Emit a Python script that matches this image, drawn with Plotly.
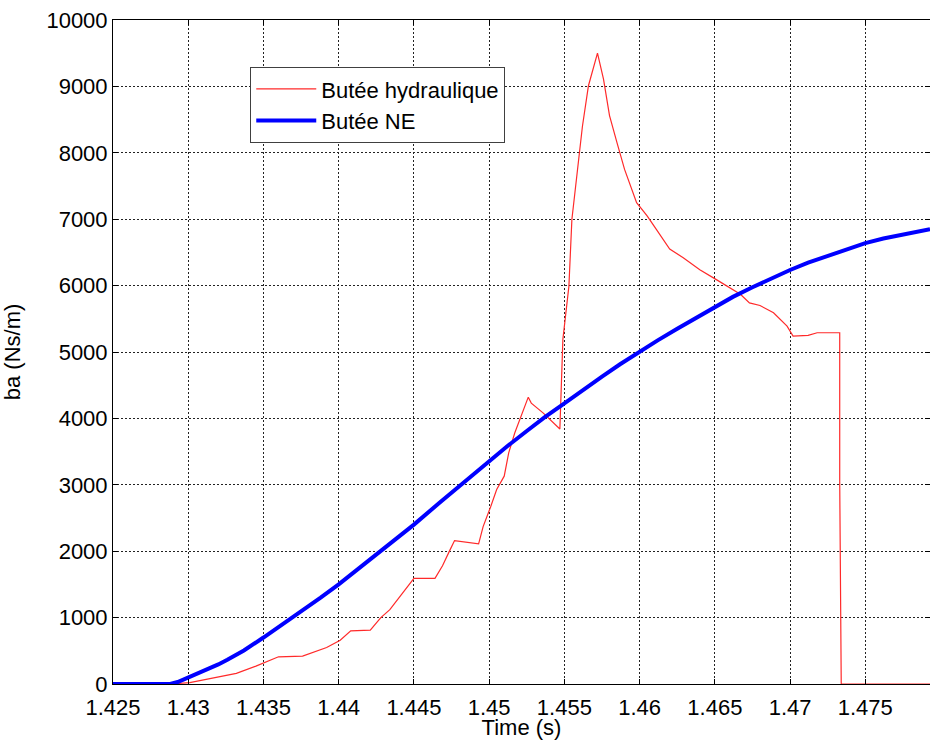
import plotly.graph_objects as go

# Butée hydraulique (red)
x_hydr = [1.4250, 1.4288, 1.4301, 1.4308, 1.4320, 1.4332, 1.4345, 1.4360, 1.4376, 1.4392,
          1.4401, 1.4408, 1.4421, 1.4428, 1.4434, 1.4441, 1.4450, 1.4464, 1.4469, 1.4474,
          1.4477, 1.4493, 1.4496, 1.4501, 1.4505, 1.4510, 1.4513, 1.4517, 1.4522, 1.4526,
          1.4528, 1.4536, 1.4547, 1.4549, 1.4553, 1.4555, 1.4560, 1.4562, 1.4566, 1.4572,
          1.4576, 1.4580, 1.4585, 1.4590, 1.4598, 1.4605, 1.4611, 1.4620, 1.4629, 1.4640,
          1.4651, 1.4658, 1.4667, 1.4673, 1.4680, 1.4689, 1.4698, 1.4702, 1.4712, 1.4718,
          1.4733, 1.4733, 1.4734, 1.4793]
y_hydr = [0, 0, 20, 50, 100, 160, 270, 410, 420, 550,
          660, 800, 810, 1000, 1120, 1330, 1590, 1590, 1780, 2020,
          2160, 2110, 2370, 2670, 2930, 3130, 3480, 3780, 4080, 4320,
          4230, 4080, 3840, 5190, 5990, 7000, 8000, 8400, 9010, 9500,
          9110, 8560, 8150, 7750, 7250, 7050, 6850, 6550, 6420, 6240,
          6090, 5990, 5870, 5740, 5700, 5590, 5390, 5240, 5250, 5290,
          5290, 3050, 0, 0]

# Butée NE (blue)
x_ne = [1.4250, 1.4288, 1.4293, 1.4300, 1.4307, 1.4314, 1.4320, 1.4326, 1.4337, 1.4350,
        1.4361, 1.4375, 1.4388, 1.4400, 1.4414, 1.4428, 1.4450, 1.4467, 1.4485, 1.4500,
        1.4512, 1.4525, 1.4537, 1.4550, 1.4562, 1.4575, 1.4587, 1.4600, 1.4612, 1.4625,
        1.4637, 1.4650, 1.4662, 1.4675, 1.4687, 1.4700, 1.4712, 1.4725, 1.4737, 1.4750,
        1.4762, 1.4775, 1.4793]
y_ne = [0, 0, 30, 95, 160, 228, 295, 365, 505, 700,
        870, 1100, 1300, 1500, 1750, 2000, 2400, 2730, 3070, 3360,
        3580, 3810, 4020, 4225, 4425, 4630, 4815, 5005, 5175, 5350,
        5510, 5680, 5830, 5975, 6105, 6235, 6345, 6450, 6550, 6640,
        6710, 6775, 6850]

x_ticks = [1.425, 1.43, 1.435, 1.44, 1.445, 1.45, 1.455, 1.46, 1.465, 1.47, 1.475]
x_ticklabels = ["1.425", "1.43", "1.435", "1.44", "1.445", "1.45", "1.455", "1.46", "1.465", "1.47", "1.475"]
y_ticks = [0, 1000, 2000, 3000, 4000, 5000, 6000, 7000, 8000, 9000, 10000]
y_ticklabels = ["0", "1000", "2000", "3000", "4000", "5000", "6000", "7000", "8000", "9000", "10000"]

fig = go.Figure()
fig.add_trace(go.Scatter(x=x_hydr, y=y_hydr, mode="lines", name="Butée hydraulique",
                         line=dict(color="#ff2a2a", width=1.2)))
fig.add_trace(go.Scatter(x=x_ne, y=y_ne, mode="lines", name="Butée NE",
                         line=dict(color="#0000ff", width=4)))

font = dict(family="Liberation Sans, Arial, sans-serif", size=22, color="black")
axis_common = dict(showline=True, linecolor="black", linewidth=1, mirror="ticks",
                   ticks="inside", ticklen=5, tickcolor="black",
                   showgrid=True, gridcolor="#222222", gridwidth=1, griddash="2px,2px",
                   zeroline=False, tickfont=font, automargin=False,
                   ticklabeloverflow="allow")

fig.update_layout(
    width=930, height=740,
    margin=dict(l=113, r=0, t=20, b=56),
    paper_bgcolor="white", plot_bgcolor="white",
    font=font,
    showlegend=True,
    legend=dict(x=0.168, y=0.929, xanchor="left", yanchor="top",
                bgcolor="white", bordercolor="#404040", borderwidth=1,
                font=font, itemwidth=60, tracegroupgap=0),
    xaxis=dict(range=[1.425, 1.4793], tickvals=x_ticks, ticktext=x_ticklabels,
               ticklabelstandoff=4,
               title=dict(text="Time (s)", font=font, standoff=8), **axis_common),
    yaxis=dict(range=[0, 10000], tickvals=y_ticks, ticktext=y_ticklabels,
               title=dict(text="ba (Ns/m)", font=font, standoff=22), **axis_common),
)

fig.write_html(
    "out.html",
    config={"displayModeBar": False},
    post_script="document.body.style.margin='0';document.documentElement.style.overflow='hidden';document.body.style.overflow='hidden';",
)
